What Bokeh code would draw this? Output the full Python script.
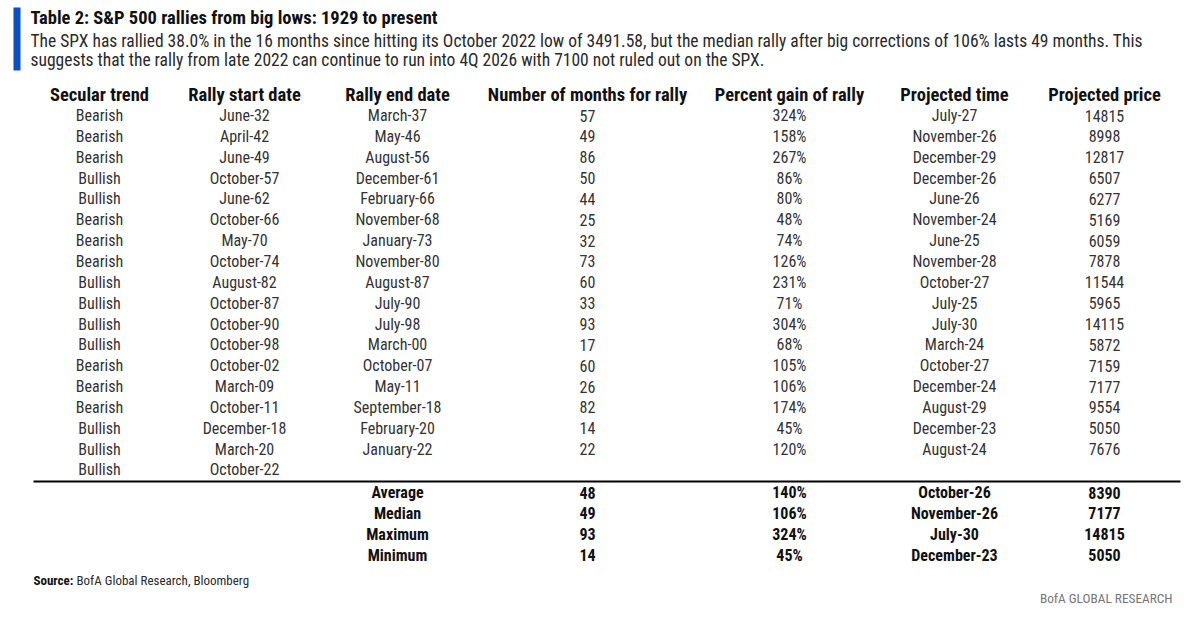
from bokeh.plotting import figure
from bokeh.models import Range1d, ColumnDataSource
from bokeh.core.properties import value
from bokeh.embed import file_html
from bokeh.resources import INLINE

title = "Table 2: S&P 500 rallies from big lows: 1929 to present"
subtitle = [
    "The SPX has rallied 38.0% in the 16 months since hitting its October 2022 low of 3491.58, but the median rally after big corrections of 106% lasts 49 months. This",
    "suggests that the rally from late 2022 can continue to run into 4Q 2026 with 7100 not ruled out on the SPX.",
]
headers = ["Secular trend", "Rally start date", "Rally end date", "Number of months for rally",
           "Percent gain of rally", "Projected time", "Projected price"]

trend = ["Bearish", "Bearish", "Bearish", "Bullish", "Bullish", "Bearish", "Bearish", "Bearish", "Bullish",
         "Bullish", "Bullish", "Bullish", "Bearish", "Bearish", "Bearish", "Bullish", "Bullish", "Bullish"]
start = ["June-32", "April-42", "June-49", "October-57", "June-62", "October-66", "May-70", "October-74",
         "August-82", "October-87", "October-90", "October-98", "October-02", "March-09", "October-11",
         "December-18", "March-20", "October-22"]
end = ["March-37", "May-46", "August-56", "December-61", "February-66", "November-68", "January-73",
       "November-80", "August-87", "July-90", "July-98", "March-00", "October-07", "May-11", "September-18",
       "February-20", "January-22", ""]
months = ["57", "49", "86", "50", "44", "25", "32", "73", "60", "33", "93", "17", "60", "26", "82", "14", "22", ""]
gain = ["324%", "158%", "267%", "86%", "80%", "48%", "74%", "126%", "231%", "71%", "304%", "68%", "105%",
        "106%", "174%", "45%", "120%", ""]
proj_time = ["July-27", "November-26", "December-29", "December-26", "June-26", "November-24", "June-25",
             "November-28", "October-27", "July-25", "July-30", "March-24", "October-27", "December-24",
             "August-29", "December-23", "August-24", ""]
proj_price = ["14815", "8998", "12817", "6507", "6277", "5169", "6059", "7878", "11544", "5965", "14115",
              "5872", "7159", "7177", "9554", "5050", "7676", ""]

sum_labels = ["Average", "Median", "Maximum", "Minimum"]
sum_months = ["48", "49", "93", "14"]
sum_gain = ["140%", "106%", "324%", "45%"]
sum_time = ["October-26", "November-26", "July-30", "December-23"]
sum_price = ["8390", "7177", "14815", "5050"]

source_note = "BofA Global Research, Bloomberg"
brand = "BofA GLOBAL RESEARCH"

# layout (pixel space of the page)
W, H = 1185, 620
col_x = [99, 244, 397, 587, 789, 954, 1104]
header_y = 94
row_y0, row_step = 115, 20.85
line_y = 481
sum_y0 = 492

FONT = "Roboto Condensed"
BLUE = "#0b4fc0"

p = figure(width=W, height=H, output_backend="svg", toolbar_location=None,
           x_range=Range1d(0, W), y_range=Range1d(H, 0),
           min_border=0, outline_line_color=None)
p.axis.visible = False
p.grid.visible = False
p.background_fill_color = "white"
p.border_fill_color = "white"

# blue accent bar
p.quad(left=[13], right=[20], top=[7], bottom=[70], fill_color=BLUE, line_color=None)

p.text(x=[30], y=[17], text=[title], text_font=value(FONT), text_font_style="bold",
       text_font_size="18.5px", text_baseline="middle", text_color="#111111")
p.text(x=[30, 30], y=[40, 59], text=subtitle, text_font=value(FONT),
       text_font_size="17.5px", text_baseline="middle", text_color="#2a2a2a")

# headers
p.text(x=col_x, y=[header_y] * len(col_x), text=headers, text_font=value(FONT), text_font_style="bold",
       text_font_size="18.5px", text_baseline="middle", text_align="center", text_color="#111111")

# body
cols = [trend, start, end, months, gain, proj_time, proj_price]
for cx, data in zip(col_x, cols):
    ys = [row_y0 + i * row_step for i in range(len(data))]
    src = ColumnDataSource(dict(x=[cx] * len(data), y=ys, t=data))
    p.text(x="x", y="y", text="t", source=src, text_font=value(FONT), text_font_size="16px",
           text_baseline="middle", text_align="center", text_color="#333333")

# separator
p.segment(x0=[33], y0=[line_y], x1=[1180], y1=[line_y], line_color="black", line_width=2)

# summary
sum_cols = [(397, sum_labels), (587, sum_months), (789, sum_gain), (954, sum_time), (1104, sum_price)]
for cx, data in sum_cols:
    ys = [sum_y0 + i * row_step for i in range(len(data))]
    src = ColumnDataSource(dict(x=[cx] * len(data), y=ys, t=data))
    p.text(x="x", y="y", text="t", source=src, text_font=value(FONT), text_font_style="bold",
           text_font_size="16px", text_baseline="middle", text_align="center", text_color="#111111")

# footer
p.text(x=[33], y=[580], text=["Source:"], text_font=value(FONT), text_font_style="bold",
       text_font_size="13px", text_baseline="middle", text_color="#111111")
p.text(x=[76], y=[580], text=[source_note], text_font=value(FONT),
       text_font_size="13px", text_baseline="middle", text_color="#2a2a2a")
p.text(x=[1172], y=[598], text=[brand], text_font=value(FONT),
       text_font_size="13.3px", text_baseline="middle", text_align="right", text_color="#777777")

open("out.html", "w").write(file_html(p, INLINE))
